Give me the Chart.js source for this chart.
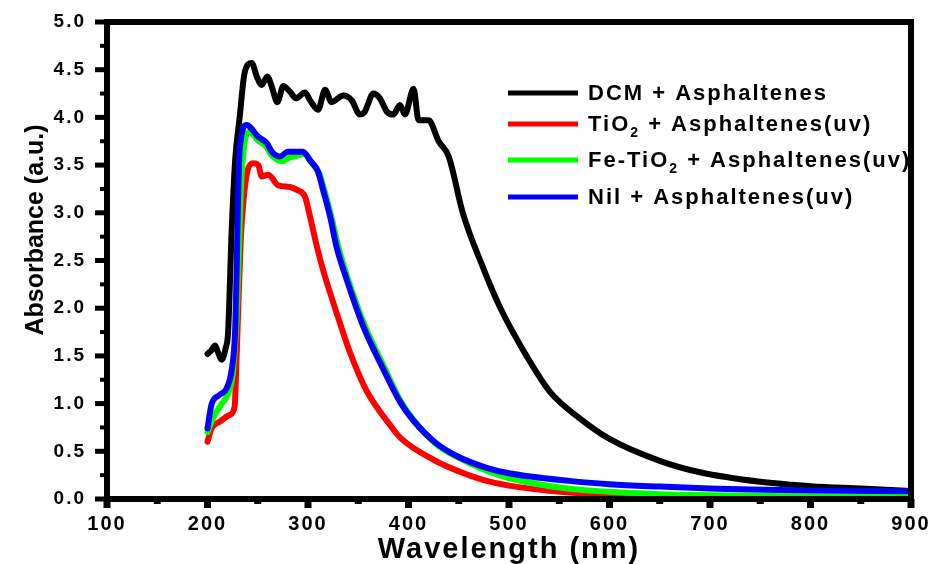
<!DOCTYPE html>
<html>
<head>
<meta charset="utf-8">
<script src="https://cdn.jsdelivr.net/npm/chart.js@4.4.1/dist/chart.umd.min.js"></script>
<style>
  html, body { margin: 0; padding: 0; background: #ffffff; }
  #uvvis { display: block; }
</style>
</head>
<body>
<canvas id="uvvis" width="934" height="564"></canvas>
<script>
// values
const dcmNm = [200, 204, 207.5, 210, 214, 218, 220.5, 224, 227.5, 232, 237, 244, 249, 254, 259.5, 264, 269.5, 275.5, 282, 288, 297, 302, 310, 317, 323.5, 335, 343.5, 351.5, 356.5, 365, 371.5, 378.5, 385, 391.5, 396.5, 405, 410, 420, 430, 440, 454, 474, 491, 518, 541, 571, 600, 650, 690, 750, 800, 850, 900];
const dcmAbs = [1.52, 1.56, 1.61, 1.55, 1.46, 1.58, 1.75, 2.8, 3.55, 4.0, 4.47, 4.57, 4.43, 4.34, 4.43, 4.32, 4.16, 4.33, 4.27, 4.20, 4.26, 4.18, 4.08, 4.29, 4.16, 4.23, 4.18, 4.03, 4.06, 4.25, 4.20, 4.06, 4.03, 4.13, 4.03, 4.30, 3.97, 3.97, 3.75, 3.59, 3.00, 2.43, 2.01, 1.49, 1.12, 0.84, 0.63, 0.40, 0.28, 0.18, 0.135, 0.11, 0.085];

const tioNm = [200, 204, 212, 222, 227, 229, 233, 236, 240, 245.5, 250.5, 254, 260.5, 270, 282, 289, 297, 302, 309, 315, 328.5, 342, 358, 382, 392, 425, 450, 474, 500, 557, 600, 657, 700, 800, 900];
const tioAbs = [0.60, 0.74, 0.81, 0.88, 0.97, 1.5, 2.7, 3.15, 3.45, 3.52, 3.50, 3.38, 3.40, 3.29, 3.27, 3.24, 3.17, 2.96, 2.64, 2.40, 1.95, 1.53, 1.14, 0.77, 0.64, 0.41, 0.29, 0.20, 0.14, 0.07, 0.045, 0.024, 0.018, 0.012, 0.01];

const feNm = [200, 206, 213, 221, 225, 229, 234, 242, 250, 258, 264, 274, 282, 290, 297, 303, 311, 316, 323, 330, 340, 356, 376, 392, 405, 427, 450, 477, 500, 550, 600, 650, 700, 800, 900];
const feAbs = [0.70, 0.86, 0.98, 1.12, 1.30, 1.9, 3.4, 3.85, 3.76, 3.70, 3.60, 3.54, 3.58, 3.60, 3.62, 3.53, 3.42, 3.25, 2.97, 2.65, 2.30, 1.83, 1.38, 1.03, 0.83, 0.58, 0.43, 0.30, 0.22, 0.12, 0.075, 0.05, 0.04, 0.025, 0.02];

const nilNm = [200, 204, 212, 219, 224, 227.5, 232, 239, 244, 249, 259, 264, 272, 280, 288, 295, 302, 310, 315, 322, 328.5, 338.5, 355, 375, 392, 405, 427, 450, 477, 500, 560, 600, 650, 700, 800, 900];
const nilAbs = [0.74, 0.99, 1.09, 1.16, 1.35, 1.77, 3.66, 3.92, 3.88, 3.81, 3.73, 3.64, 3.59, 3.64, 3.64, 3.64, 3.55, 3.43, 3.24, 2.96, 2.64, 2.30, 1.81, 1.36, 1.01, 0.82, 0.59, 0.44, 0.33, 0.27, 0.19, 0.155, 0.13, 0.11, 0.09, 0.08];

const seriesNames = ['DCM + Asphaltenes', 'TiO\u2082 + Asphaltenes(uv)', 'Fe-TiO\u2082 + Asphaltenes(uv)', 'Nil + Asphaltenes(uv)'];
// legend text pieces, every second piece is a subscript
const legendPieces = [['DCM + Asphaltenes'], ['TiO', '2', ' + Asphaltenes(uv)'], ['Fe-TiO', '2', ' + Asphaltenes(uv)'], ['Nil + Asphaltenes(uv)']];
const seriesColors = ['#000000', '#ff0000', '#00ff00', '#0000ff'];

const xTickValues = [100, 200, 300, 400, 500, 600, 700, 800, 900];
const xMinorValues = [150, 250, 350, 450, 550, 650, 750, 850];
const yTickValues = [0, 0.5, 1, 1.5, 2, 2.5, 3, 3.5, 4, 4.5, 5];
const yMinorValues = [0.25, 0.75, 1.25, 1.75, 2.25, 2.75, 3.25, 3.75, 4.25, 4.75];

const FONT = '"Liberation Sans", Arial, sans-serif';

function pts(xs, ys) {
    return xs.map((v, i) => ({ x: v, y: ys[i] }));
}

const frameAndLegend = {
    id: 'frameAndLegend',
    beforeDraw(chart) {
        chart.ctx.letterSpacing = '2px';
    },
    afterDatasetsDraw(chart) {
        const { ctx, chartArea: a, scales: { x, y } } = chart;
        ctx.save();

        // legend (inside the plot, drawn under the frame)
        const rowY = [93, 124, 160, 197];
        legendPieces.forEach((pieces, i) => {
            ctx.fillStyle = seriesColors[i];
            ctx.fillRect(508, rowY[i] - 2.5, 70, 5);
            let tx = 588;
            ctx.fillStyle = '#000';
            ctx.textAlign = 'left';
            ctx.textBaseline = 'middle';
            pieces.forEach((p, k) => {
                if (k % 2 === 1) {
                    ctx.font = 'bold 14px ' + FONT;
                    ctx.fillText(p, tx, rowY[i] + 9);
                } else {
                    ctx.font = 'bold 22px ' + FONT;
                    ctx.fillText(p, tx, rowY[i] + 1);
                }
                tx += ctx.measureText(p).width;
            });
        });

        // frame
        ctx.strokeStyle = '#000';
        ctx.lineWidth = 6;
        ctx.strokeRect(a.left, a.top, a.right - a.left, a.bottom - a.top);

        // tick marks
        ctx.fillStyle = '#000';
        xTickValues.forEach(v => {
            const px = x.getPixelForValue(v);
            ctx.fillRect(px - 3.5, a.bottom, 7, 9);
        });
        xMinorValues.forEach(v => {
            const px = x.getPixelForValue(v);
            ctx.fillRect(px - 3.5, a.bottom, 7, 5);
        });
        yTickValues.forEach(v => {
            const py = y.getPixelForValue(v);
            ctx.fillRect(a.left - 12, py - 2.5, 12, 5);
        });
        yMinorValues.forEach(v => {
            const py = y.getPixelForValue(v);
            ctx.fillRect(a.left - 7, py - 2, 7, 4);
        });

        // y axis title
        ctx.letterSpacing = '0px';
        ctx.translate(36, 230);
        ctx.rotate(-Math.PI / 2);
        ctx.font = 'bold 25px ' + FONT;
        ctx.textAlign = 'center';
        ctx.textBaseline = 'middle';
        ctx.fillText('Absorbance (a.u.)', 0, 0);
        ctx.restore();
        ctx.letterSpacing = '2px';
    }
};

const data = {
    datasets: [
        { label: seriesNames[0], data: pts(dcmNm, dcmAbs), borderColor: seriesColors[0], order: 4 },
        { label: seriesNames[1], data: pts(tioNm, tioAbs), borderColor: seriesColors[1], order: 3 },
        { label: seriesNames[2], data: pts(feNm, feAbs), borderColor: seriesColors[2], order: 2 },
        { label: seriesNames[3], data: pts(nilNm, nilAbs), borderColor: seriesColors[3], order: 1 }
    ]
};

const config = {
    type: 'line',
    data: data,
    options: {
        responsive: false,
        animation: false,
        layout: { padding: { top: 22, right: 23, left: 0, bottom: 0 } },
        elements: {
            line: { borderWidth: 6, cubicInterpolationMode: 'monotone', borderCapStyle: 'round', borderJoinStyle: 'round' },
            point: { radius: 0 }
        },
        plugins: {
            legend: { display: false },
            tooltip: { enabled: false }
        },
        scales: {
            x: {
                type: 'linear',
                min: 100,
                max: 900,
                afterBuildTicks: s => { s.ticks = xTickValues.map(v => ({ value: v })); },
                afterFit: s => {
                    s.height = 65;
                    s.paddingLeft = 0;
                    s.paddingRight = 0;
                },
                grid: { display: false, drawTicks: false },
                border: { display: false },
                ticks: {
                    color: '#000',
                    padding: 13,
                    maxRotation: 0,
                    font: { family: FONT, size: 20, weight: 'bold' },
                    callback: v => String(v)
                },
                title: {
                    display: true,
                    text: 'Wavelength (nm)',
                    color: '#000',
                    padding: { top: 0, bottom: 0 },
                    font: { family: FONT, size: 29, weight: 'bold', lineHeight: 1 }
                }
            },
            y: {
                min: 0,
                max: 5,
                afterBuildTicks: s => { s.ticks = yTickValues.map(v => ({ value: v })); },
                afterFit: s => {
                    s.width = 107;
                    s.paddingTop = 0;
                    s.paddingBottom = 0;
                },
                grid: { display: false, drawTicks: false },
                border: { display: false },
                ticks: {
                    color: '#000',
                    padding: 21,
                    font: { family: FONT, size: 19, weight: 'bold' },
                    callback: v => v.toFixed(1)
                }
            }
        }
    },
    plugins: [frameAndLegend]
};

const ctx = document.getElementById('uvvis').getContext('2d');
window.uvvisChart = new Chart(ctx, config);
</script>
</body>
</html>
